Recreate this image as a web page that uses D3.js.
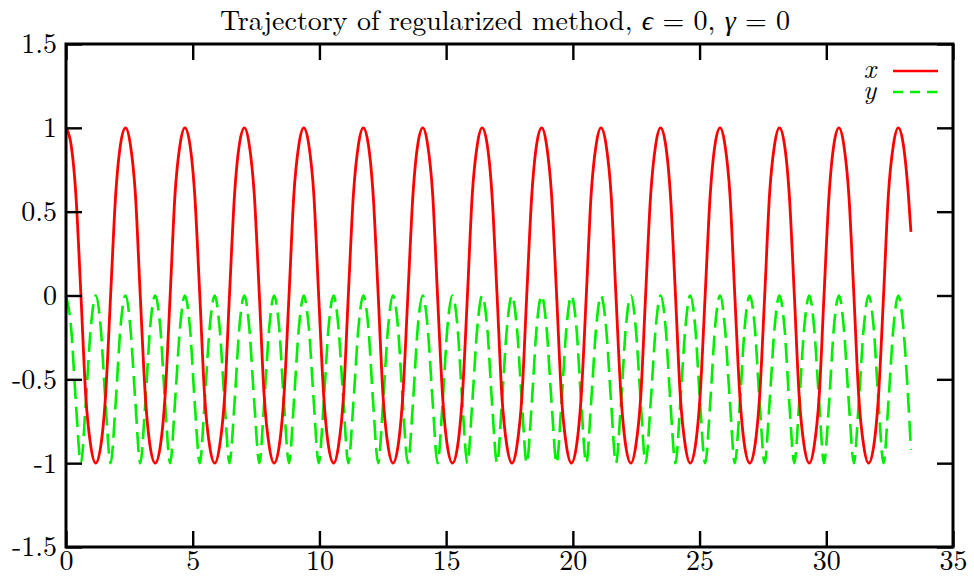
<!DOCTYPE html>
<html>
<head>
<meta charset="utf-8">
<script src="https://cdn.jsdelivr.net/npm/d3@7"></script>
<style>
  body { margin: 0; background: #fff; }
  svg text { font-family: "Latin Modern Roman", "CMU Serif", "Liberation Serif", "DejaVu Serif", serif; fill: #000; }
</style>
</head>
<body>
<div id="chart"></div>
<script>
// drawing space
const width = 974,
  height = 579,
  margin = { top: 44, right: 21, bottom: 32, left: 66 };

// sample times
const times = [
  0.00, 0.20, 0.39, 0.59, 0.78, 0.98, 1.17, 1.37, 1.56, 1.76, 1.96, 2.15,
  2.35, 2.54, 2.74, 2.93, 3.13, 3.32, 3.52, 3.72, 3.91, 4.11, 4.30, 4.50,
  4.69, 4.89, 5.08, 5.28, 5.47, 5.67, 5.87, 6.06, 6.26, 6.45, 6.65, 6.84,
  7.04, 7.23, 7.43, 7.63, 7.82, 8.02, 8.21, 8.41, 8.60, 8.80, 8.99, 9.19,
  9.38, 9.58, 9.78, 9.97, 10.17, 10.36, 10.56, 10.75, 10.95, 11.14, 11.34, 11.54,
  11.73, 11.93, 12.12, 12.32, 12.51, 12.71, 12.90, 13.10, 13.29, 13.49, 13.69, 13.88,
  14.08, 14.27, 14.47, 14.66, 14.86, 15.05, 15.25, 15.45, 15.64, 15.84, 16.03, 16.23,
  16.42, 16.62, 16.81, 17.01, 17.20, 17.40, 17.60, 17.79, 17.99, 18.18, 18.38, 18.57,
  18.77, 18.96, 19.16, 19.36, 19.55, 19.75, 19.94, 20.14, 20.33, 20.53, 20.72, 20.92,
  21.11, 21.31, 21.51, 21.70, 21.90, 22.09, 22.29, 22.48, 22.68, 22.87, 23.07, 23.27,
  23.46, 23.66, 23.85, 24.05, 24.24, 24.44, 24.63, 24.83, 25.02, 25.22, 25.42, 25.61,
  25.81, 26.00, 26.20, 26.39, 26.59, 26.78, 26.98, 27.18, 27.37, 27.57, 27.76, 27.96,
  28.15, 28.35, 28.54, 28.74, 28.93, 29.13, 29.33, 29.52, 29.72, 29.91, 30.11, 30.30,
  30.50, 30.69, 30.89, 31.09, 31.28, 31.48, 31.67, 31.87, 32.06, 32.26, 32.45, 32.65,
  32.84, 33.04, 33.24, 33.34
];

// x(t), red solid
const xValues = [
  1, 0.9, 0.6, 0, -0.6, -0.9, -1, -0.9, -0.6, 0, 0.6, 0.9,
  1, 0.9, 0.6, 0, -0.6, -0.9, -1, -0.9, -0.6, 0, 0.6, 0.9,
  1, 0.9, 0.6, 0, -0.6, -0.9, -1, -0.9, -0.6, 0, 0.6, 0.9,
  1, 0.9, 0.6, 0, -0.6, -0.9, -1, -0.9, -0.6, 0, 0.6, 0.9,
  1, 0.9, 0.6, 0, -0.6, -0.9, -1, -0.9, -0.6, 0, 0.6, 0.9,
  1, 0.9, 0.6, 0, -0.6, -0.9, -1, -0.9, -0.6, 0, 0.6, 0.9,
  1, 0.9, 0.6, 0, -0.6, -0.9, -1, -0.9, -0.6, 0, 0.6, 0.9,
  1, 0.9, 0.6, 0, -0.6, -0.9, -1, -0.9, -0.6, 0, 0.6, 0.9,
  1, 0.9, 0.6, 0, -0.6, -0.9, -1, -0.9, -0.6, 0, 0.6, 0.9,
  1, 0.9, 0.6, 0, -0.6, -0.9, -1, -0.9, -0.6, 0, 0.6, 0.9,
  1, 0.9, 0.6, 0, -0.6, -0.9, -1, -0.9, -0.6, 0, 0.6, 0.9,
  1, 0.9, 0.6, 0, -0.6, -0.9, -1, -0.9, -0.6, 0, 0.6, 0.9,
  1, 0.9, 0.6, 0, -0.6, -0.9, -1, -0.9, -0.6, 0, 0.6, 0.9,
  1, 0.9, 0.6, 0, -0.6, -0.9, -1, -0.9, -0.6, 0, 0.6, 0.9,
  1, 0.9, 0.6, 0.38
];

// y(t), green dashed
const yValues = [
  0, -0.19, -0.64, -1, -0.64, -0.19, 0, -0.19, -0.64, -1, -0.64, -0.19,
  0, -0.19, -0.64, -1, -0.64, -0.19, 0, -0.19, -0.64, -1, -0.64, -0.19,
  0, -0.19, -0.64, -1, -0.64, -0.19, 0, -0.19, -0.64, -1, -0.64, -0.19,
  0, -0.19, -0.64, -1, -0.64, -0.19, 0, -0.19, -0.64, -1, -0.64, -0.19,
  0, -0.19, -0.64, -1, -0.64, -0.19, 0, -0.19, -0.64, -1, -0.64, -0.19,
  0, -0.19, -0.64, -1, -0.64, -0.19, 0, -0.19, -0.64, -1, -0.64, -0.19,
  0, -0.19, -0.64, -1, -0.64, -0.19, 0, -0.19, -0.64, -1, -0.64, -0.19,
  0, -0.19, -0.64, -1, -0.64, -0.19, 0, -0.19, -0.64, -1, -0.64, -0.19,
  0, -0.19, -0.64, -1, -0.64, -0.19, 0, -0.19, -0.64, -1, -0.64, -0.19,
  0, -0.19, -0.64, -1, -0.64, -0.19, 0, -0.19, -0.64, -1, -0.64, -0.19,
  0, -0.19, -0.64, -1, -0.64, -0.19, 0, -0.19, -0.64, -1, -0.64, -0.19,
  0, -0.19, -0.64, -1, -0.64, -0.19, 0, -0.19, -0.64, -1, -0.64, -0.19,
  0, -0.19, -0.64, -1, -0.64, -0.19, 0, -0.19, -0.64, -1, -0.64, -0.19,
  0, -0.19, -0.64, -1, -0.64, -0.19, 0, -0.19, -0.64, -1, -0.64, -0.19,
  0, -0.19, -0.64, -0.92
];

const xTicks = [0, 5, 10, 15, 20, 25, 30, 35];
const xTickLabels = ["0", "5", "10", "15", "20", "25", "30", "35"];
const yTicks = [-1.5, -1, -0.5, 0, 0.5, 1, 1.5];
const yTickLabels = ["-1.5", "-1", "-0.5", "0", "0.5", "1", "1.5"];

const seriesNames = ["x", "y"];
const seriesColors = ["#ff0000", "#00ee00"];

// Scales
const xScale = d3.scaleLinear()
  .domain([0, 35])
  .range([margin.left, width - margin.right]);

const yScale = d3.scaleLinear()
  .domain([-1.5, 1.5])
  .range([height - margin.bottom, margin.top]);

const svg = d3.select("#chart")
  .append("svg")
  .attr("width", width)
  .attr("height", height);

// curves
const xData = times.map((t, i) => ({ t: t, v: xValues[i] }));
const yData = times.map((t, i) => ({ t: t, v: yValues[i] }));

const line = d3.line()
  .x(d => xScale(d.t))
  .y(d => yScale(d.v))
  .curve(d3.curveMonotoneX);

svg.append("path")
  .attr("d", line(yData))
  .attr("fill", "none")
  .attr("stroke", seriesColors[1])
  .attr("stroke-width", 2.6)
  .attr("stroke-dasharray", "20,8");

svg.append("path")
  .attr("d", line(xData))
  .attr("fill", "none")
  .attr("stroke", seriesColors[0])
  .attr("stroke-width", 2.8);

// Axes (ticks on all four sides, pointing in)
const xAxis = d3.axisBottom(xScale)
  .tickValues(xTicks)
  .tickFormat((d, i) => xTickLabels[i])
  .tickSizeInner(-16)
  .tickSizeOuter(0)
  .tickPadding(3);

const yAxis = d3.axisLeft(yScale)
  .tickValues(yTicks)
  .tickFormat((d, i) => yTickLabels[i])
  .tickSizeInner(-16)
  .tickSizeOuter(0)
  .tickPadding(9);

svg.append("g")
  .attr("transform", `translate(0, ${height - margin.bottom})`)
  .call(xAxis);

svg.append("g")
  .attr("transform", `translate(${margin.left}, 0)`)
  .call(yAxis);

svg.append("g")
  .attr("transform", `translate(0, ${margin.top})`)
  .call(d3.axisTop(xScale).tickValues(xTicks).tickFormat("").tickSizeInner(-16).tickSizeOuter(0));

svg.append("g")
  .attr("transform", `translate(${width - margin.right}, 0)`)
  .call(d3.axisRight(yScale).tickValues(yTicks).tickFormat("").tickSizeInner(-16).tickSizeOuter(0));

svg.selectAll(".domain").remove();
svg.selectAll(".tick line")
  .attr("stroke", "#000")
  .attr("stroke-width", 2.4);
svg.selectAll(".tick text")
  .attr("font-size", 28)
  .attr("fill", "#000");

// frame
svg.append("rect")
  .attr("x", margin.left)
  .attr("y", margin.top)
  .attr("width", width - margin.left - margin.right)
  .attr("height", height - margin.top - margin.bottom)
  .attr("fill", "none")
  .attr("stroke", "#000")
  .attr("stroke-width", 3);

// title
const title = svg.append("text")
  .attr("x", 505)
  .attr("y", 30)
  .attr("text-anchor", "middle")
  .attr("font-size", 28);
title.append("tspan").text("Trajectory of regularized method, ");
title.append("tspan").attr("font-style", "italic").text("ϵ");
title.append("tspan").text(" = 0, ");
title.append("tspan").attr("font-style", "italic").text("γ");
title.append("tspan").text(" = 0");

// legend
const legend = svg.append("g")
  .attr("transform", "translate(0, 71)");

seriesNames.forEach((name, i) => {
  const row = legend.append("g").attr("transform", `translate(0, ${i * 21})`);
  row.append("text")
    .attr("x", 876)
    .attr("y", 7)
    .attr("text-anchor", "end")
    .attr("font-size", 27)
    .attr("font-style", "italic")
    .text(name);
  row.append("line")
    .attr("x1", 893)
    .attr("x2", 938)
    .attr("stroke", seriesColors[i])
    .attr("stroke-width", 2.6)
    .attr("stroke-dasharray", i === 1 ? "10,7" : null);
});
</script>
</body>
</html>
